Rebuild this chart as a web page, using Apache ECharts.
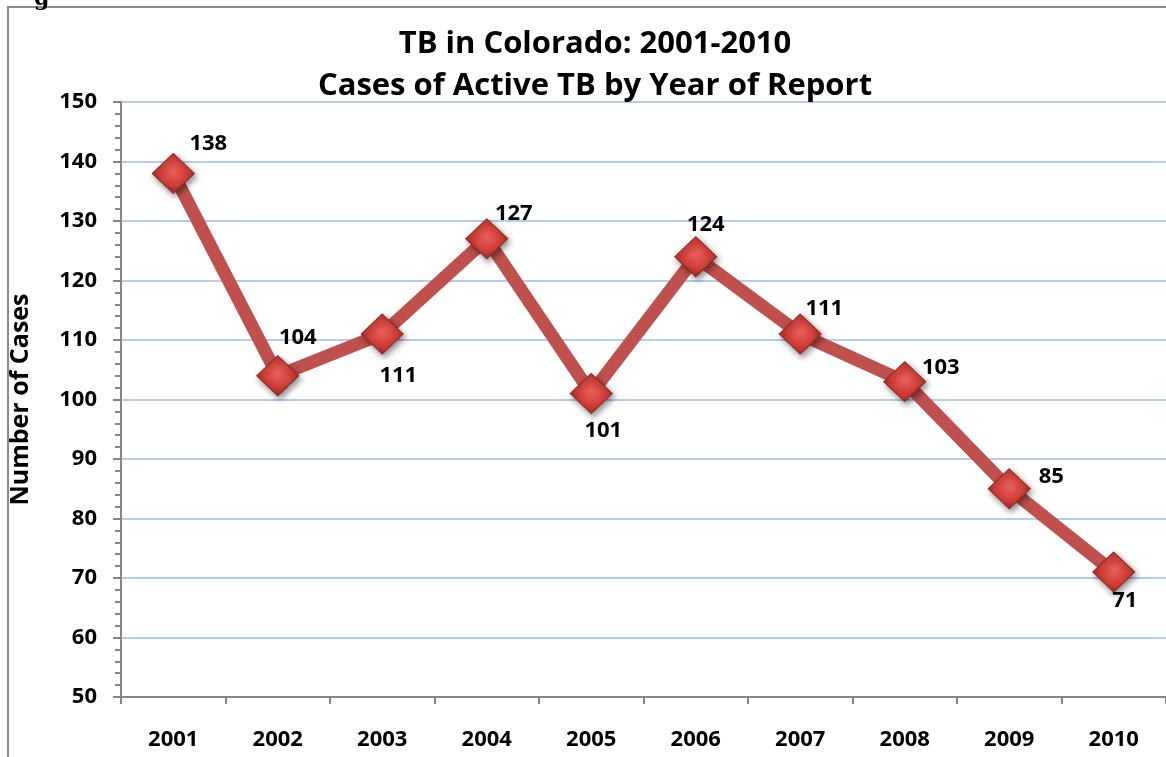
<!DOCTYPE html>
<html><head><meta charset="utf-8">
<script src="https://cdn.jsdelivr.net/npm/echarts@6/dist/echarts.min.js"></script>
<style>html,body{margin:0;padding:0;background:#fff}#c{width:1166px;height:757px}</style>
</head><body><div id="c"></div>
<script>
const years = ['2001','2002','2003','2004','2005','2006','2007','2008','2009','2010'];
const cases = [138, 104, 111, 127, 101, 124, 111, 103, 85, 71];
const yTicks = [50, 60, 70, 80, 90, 100, 110, 120, 130, 140, 150];
const titleLines = ['TB in Colorado: 2001-2010', 'Cases of Active TB by Year of Report'];
const yAxisName = 'Number of Cases';
// label offsets (style only)
const labelOffsets = [[35,-30],[20,-38],[16,42],[27,-25],[12,37],[10,-32],[24,-25],[36,-14],[42,-12],[11,29]];

const FONT = '"Open Sans", Lato, sans-serif';
const chart = echarts.init(document.getElementById('c'));
chart.setOption({
  animation: false,
  backgroundColor: '#fff',
  title: {
    text: titleLines.join('\n'),
    left: 590, top: 18, textAlign: 'center',
    textStyle: {fontFamily: FONT, fontWeight: 'bold', fontSize: 31, lineHeight: 42, color: '#000'}
  },
  graphic: [
    {type: 'rect', shape: {x: 8, y: 7, width: 1180, height: 780}, style: {fill: 'none', stroke: '#8a8a8a', lineWidth: 2}, z: -1},
    {type: 'text', left: 34, top: -12, style: {text: 'g', font: 'bold 22px "DejaVu Serif", serif', fill: '#000'}}
  ],
  grid: {left: 121, top: 102, width: 1050, height: 595, containLabel: false},
  xAxis: {
    type: 'category', data: years, boundaryGap: true,
    axisLine: {lineStyle: {color: '#868686', width: 2}},
    axisTick: {show: true, length: 7, inside: false, lineStyle: {color: '#868686', width: 2}, alignWithLabel: false},
    axisLabel: {fontFamily: FONT, fontWeight: 'bold', fontSize: 22, color: '#000', margin: 32}
  },
  yAxis: {
    type: 'value', min: yTicks[0], max: yTicks[yTicks.length-1], interval: 10,
    name: yAxisName, nameLocation: 'middle', nameGap: 88, nameRotate: 90,
    nameTextStyle: {fontFamily: FONT, fontWeight: 'bold', fontSize: 25, color: '#000'},
    axisLine: {show: true, lineStyle: {color: '#868686', width: 2}},
    axisTick: {show: true, length: 8, lineStyle: {color: '#868686', width: 2}},
    minorTick: {show: true, splitNumber: 5, length: 6, lineStyle: {color: '#868686', width: 2}},
    axisLabel: {fontFamily: FONT, fontWeight: 'bold', fontSize: 22, color: '#000', margin: 24},
    splitLine: {show: true, lineStyle: {color: '#b7cbea', width: 2}}
  },
  series: [{
    type: 'line', data: cases.map((v, i) => ({
      value: v,
      label: {offset: labelOffsets[i]}
    })),
    lineStyle: {color: '#c0504d', width: 13},
    symbol: 'diamond', symbolSize: [42, 40],
    itemStyle: {
      color: {type: 'radial', x: 0.5, y: 0.45, r: 0.6, colorStops: [{offset: 0, color: '#e8605a'}, {offset: 0.6, color: '#d03b35'}, {offset: 1, color: '#9e2420'}]},
      borderColor: '#8c2a27', borderWidth: 1,
      shadowColor: 'rgba(0,0,0,0.45)', shadowBlur: 6, shadowOffsetX: 2, shadowOffsetY: 3
    },
    label: {show: true, position: 'inside', fontFamily: FONT, fontWeight: 'bold', fontSize: 22, color: '#000'},
    z: 3
  }]
});
</script></body></html>
